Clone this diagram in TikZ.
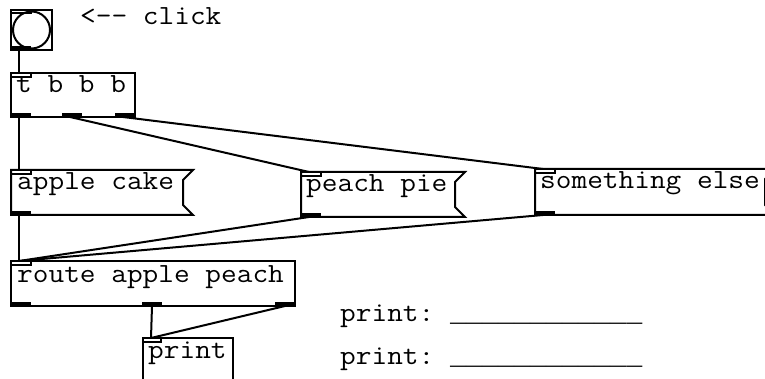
\documentclass[tikz,border=0pt]{standalone}
\usepackage{fontspec}
\setmonofont{Latin Modern Mono}[FakeStretch=1.1]
\newfontfamily\ulfont{Liberation Mono}
\usetikzlibrary{calc}
\begin{document}
\begin{tikzpicture}[x=1pt,y=-1pt,
  txt/.style={font=\ttfamily\fontsize{27.7}{30}\selectfont, inner sep=0pt, anchor=base west},
  box/.style={anchor=north west, inner sep=0pt, outer sep=0pt},
  border/.style={line width=2pt},
  wire/.style={line width=2pt},
  inlet/.style={line width=1.2pt},
  outlet/.style={fill=black}]
\useasboundingbox (0,0) rectangle (765,379);
\clip (0,0) rectangle (765,379);

% bang
\node[box, draw, border, minimum width=41pt, minimum height=40pt] (bng) at (11,10) {};
\node[circle, draw, border, minimum size=37pt, inner sep=0pt] (bngc) at (bng.center) {};
\fill ($(bng.south west)$) rectangle ++(20,-4);
\draw[inlet] (bng.north west) rectangle ++(20,3);
\node[txt] (click) at (80,25) {<-- click};

% t b b b
\node[box, draw, border, minimum width=124pt, minimum height=44pt] (t) at (11,73) {};
\node[txt] (tl) at (16,93) {t b b b};
\draw[inlet] (t.north west) rectangle ++(20,4);
\fill[outlet] (t.south west) rectangle ++(20,-4);
\fill[outlet] ($(t.south west)+(51,0)$) rectangle ++(20,-4);
\fill[outlet] (t.south east) rectangle ++(-20,-4);

% apple cake
\node[box, minimum width=182pt, minimum height=45pt] (ac) at (11,170) {};
\draw[border] (ac.north west) -- (ac.north east) -- ($(ac.north east)+(-10,10)$) -- ($(ac.south east)+(-10,-10)$) -- (ac.south east) -- (ac.south west) -- cycle;
\node[txt] (acl) at (17,190) {apple cake};
\draw[inlet] (ac.north west) rectangle ++(20,4);
\fill[outlet] (ac.south west) rectangle ++(20,-4);

% peach pie
\node[box, minimum width=164pt, minimum height=45pt] (pp) at (301,172) {};
\draw[border] (pp.north west) -- (pp.north east) -- ($(pp.north east)+(-10,10)$) -- ($(pp.south east)+(-10,-10)$) -- (pp.south east) -- (pp.south west) -- cycle;
\node[txt] (ppl) at (306,192) {peach pie};
\draw[inlet] (pp.north west) rectangle ++(20,4);
\fill[outlet] (pp.south west) rectangle ++(20,-4);

% something else
\node[box, minimum width=240pt, minimum height=46pt] (se) at (535,169) {};
\draw[border] (se.north west) -- (se.north east) -- ($(se.north east)+(-10,10)$) -- ($(se.south east)+(-10,-10)$) -- (se.south east) -- (se.south west) -- cycle;
\node[txt] (sel) at (540,189) {something else};
\draw[inlet] (se.north west) rectangle ++(20,4);
\fill[outlet] (se.south west) rectangle ++(20,-4);

% route
\node[box, draw, border, minimum width=284pt, minimum height=45pt] (rt) at (11,261) {};
\node[txt] (rtl) at (17,282) {route apple peach};
\draw[inlet] (rt.north west) rectangle ++(20,4);
\fill[outlet] (rt.south west) rectangle ++(20,-4);
\fill[outlet] ($(rt.south west)+(131,0)$) rectangle ++(20,-4);
\fill[outlet] (rt.south east) rectangle ++(-20,-4);

% print
\node[box, draw, border, minimum width=90pt, minimum height=60pt] (pr) at (143,338) {};
\node[txt] (prl) at (148,358) {print};
\draw[inlet] (pr.north west) rectangle ++(18,4);

% coordinates
\coordinate (bng-o) at ($(bng.south west)+(8,0)$);
\coordinate (t-i) at ($(t.north west)+(8,0)$);
\coordinate (t-o0) at ($(t.south west)+(8,0)$);
\coordinate (t-o1) at ($(t.south west)+(59,0)$);
\coordinate (t-o2) at ($(t.south east)+(-12,0)$);
\coordinate (ac-i) at ($(ac.north west)+(8,0)$);
\coordinate (ac-o) at ($(ac.south west)+(8,0)$);
\coordinate (pp-i) at ($(pp.north west)+(8,0)$);
\coordinate (pp-o) at ($(pp.south west)+(8,0)$);
\coordinate (se-i) at ($(se.north west)+(8,0)$);
\coordinate (se-o) at ($(se.south west)+(8,0)$);
\coordinate (rt-i) at ($(rt.north west)+(8,0)$);
\coordinate (rt-o1) at ($(rt.south west)+(141,0)$);
\coordinate (rt-o2) at ($(rt.south east)+(-10,0)$);
\coordinate (pr-i) at ($(pr.north west)+(8,0)$);

% wires
\draw[wire] (bng-o) -- (t-i);
\draw[wire] (t-o0) -- (ac-i);
\draw[wire] (t-o1) -- (pp-i);
\draw[wire] (t-o2) -- (se-i);
\draw[wire] (ac-o) -- (rt-i);
\draw[wire] (pp-o) -- (rt-i);
\draw[wire] (se-o) -- (rt-i);
\draw[wire] (rt-o1) -- (pr-i);
\draw[wire] (rt-o2) -- (pr-i);

% print console
\node[txt] (p1) at (340,321) {print: {\ulfont\fontsize{26.7}{30}\selectfont \_\_\_\_\_\_\_\_\_\_\_\_}};
\node[txt] (p2) at (340,364) {print: {\ulfont\fontsize{26.7}{30}\selectfont \_\_\_\_\_\_\_\_\_\_\_\_}};
\end{tikzpicture}
\end{document}
